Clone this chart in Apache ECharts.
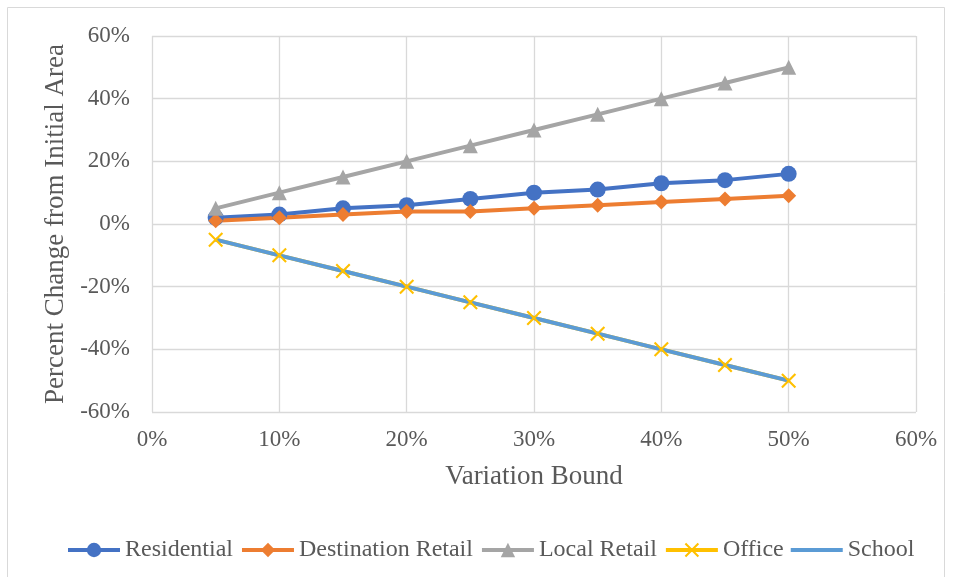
<!DOCTYPE html>
<html><head><meta charset="utf-8">
<script src="https://cdn.jsdelivr.net/npm/echarts@6/dist/echarts.min.js"></script>
<style>html,body{margin:0;padding:0;background:#fff}#c{width:954px;height:577px}</style>
</head><body><div id="c"></div>
<script>
const xValues = [5,10,15,20,25,30,35,40,45,50];
const residential = [2,3,5,6,8,10,11,13,14,16];
const destinationRetail = [1,2,3,4,4,5,6,7,8,9];
const localRetail = [5,10,15,20,25,30,35,40,45,50];
const office = [-5,-10,-15,-20,-25,-30,-35,-40,-45,-50];
const school = [-5,-10,-15,-20,-25,-30,-35,-40,-45,-50];
const seriesNames = ['Residential','Destination Retail','Local Retail','Office','School'];
const colors = ['#4472C4','#ED7D31','#A5A5A5','#FFC000','#5B9BD5'];

const font = 'Liberation Serif, Times New Roman, serif';
const pair = arr => xValues.map((x,i)=>[x, arr[i]]);
const xPath = 'path://M0,1L1,0L5,4L9,0L10,1L6,5L10,9L9,10L5,6L1,10L0,9L4,5Z';

function mk(name, data, color, symbol, size){
  return {name, type:'line', data:pair(data), symbol, symbolSize:size,
    lineStyle:{color, width:4}, itemStyle:{color}, showSymbol:symbol!=='none'};
}
const chart = echarts.init(document.getElementById('c'));
chart.setOption({
  animation:false,
  color: colors,
  graphic:[{type:'rect', shape:{x:7.5,y:7.5,width:937,height:580}, style:{fill:'none', stroke:'#D9D9D9', lineWidth:1}, silent:true}],
  grid:{left:152, right:38, top:36, bottom:165, containLabel:false},
  xAxis:{type:'value', min:0, max:60, interval:10,
    name:'Variation Bound', nameLocation:'middle', nameGap:51,
    nameTextStyle:{fontFamily:font, fontSize:27, color:'#595959'},
    axisLine:{show:false}, axisTick:{show:false},
    axisLabel:{formatter:v=>v+'%', fontFamily:font, fontSize:23, color:'#595959', margin:16},
    splitLine:{show:true, lineStyle:{color:'#D9D9D9', width:1.3}}},
  yAxis:{type:'value', min:-60, max:60, interval:20,
    name:'Percent Change from Initial Area', nameLocation:'middle', nameGap:82,
    nameTextStyle:{fontFamily:font, fontSize:27, color:'#595959'},
    axisLine:{show:false}, axisTick:{show:false},
    axisLabel:{formatter:v=>v+'%', fontFamily:font, fontSize:23, color:'#595959', margin:22},
    splitLine:{show:true, lineStyle:{color:'#D9D9D9', width:1.3}}},
  legend:{bottom:10, left:61, itemWidth:52, itemHeight:18, itemGap:7,
    lineStyle:{width:4},
    textStyle:{fontFamily:font, fontSize:24, color:'#595959'},
    data:seriesNames.map(n => n==='School' ? {name:n, icon:'path://M0,0h52v4h-52z'} : n)},
  series:[
    mk('Residential', residential, colors[0], 'circle', 16),
    mk('Destination Retail', destinationRetail, colors[1], 'diamond', 15),
    mk('Local Retail', localRetail, colors[2], 'triangle', 15),
    mk('Office', office, colors[3], xPath, 15),
    mk('School', school, colors[4], 'none', 1)
  ]
});
</script></body></html>
